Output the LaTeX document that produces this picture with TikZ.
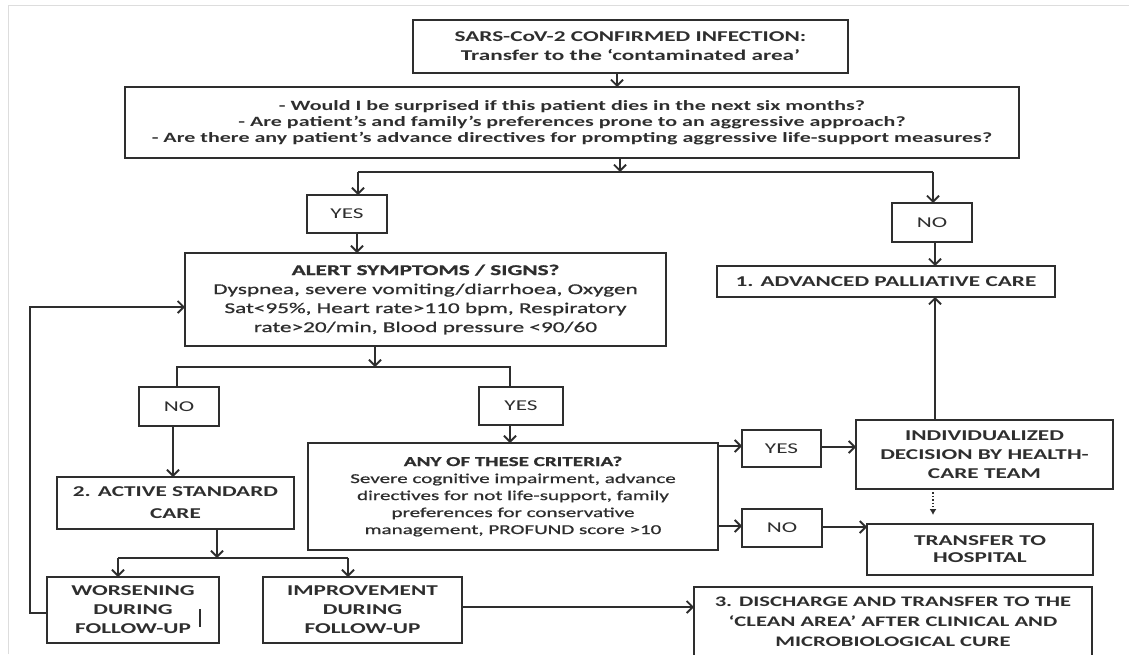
\documentclass[tikz,border=0pt]{standalone}
\usepackage{fontspec}
\setmainfont{Carlito}[FakeStretch=1.55]
\newfontfamily\semib{Carlito}[FakeStretch=1.55,FakeBold=0.8]
\usetikzlibrary{arrows.meta,calc}
\definecolor{ink}{HTML}{2E2E2E}
\definecolor{frame}{HTML}{DDDDDD}
\begin{document}
\begin{tikzpicture}[x=1pt,y=-1pt,
  box/.style={draw=ink,line width=2pt,align=center,inner sep=1pt,outer sep=0pt,text=ink,
    font=\fontsize{15}{19}\selectfont\bfseries},
  plain/.style={box,font=\fontsize{15}{19}\selectfont},
  body/.style={box,font=\fontsize{15}{19}\selectfont\semib},
  conn/.style={draw=ink,line width=2pt},
  arr/.style={conn,-{Straight Barb[length=6pt,width=12pt,line width=1.8pt]}},
  dotarr/.style={draw=ink,line width=1.4pt,dotted,-{Latex[length=6pt,width=7pt]}},
]
\useasboundingbox (0,0) rectangle (1129,654);
\clip (0,0) rectangle (1129,654);
\fill[white] (0,0) rectangle (1129,654);
\draw[frame,line width=1pt] (8,654) -- (8,5) -- (1129,5);

% boxes
\node[box,minimum width=435,minimum height=53] (top) at (630.5,46.5)
  {SARS-CoV-2 CONFIRMED INFECTION:\\Transfer to the `contaminated area'};
\node[box,minimum width=894,minimum height=71,font=\fontsize{14.2}{16}\selectfont\bfseries] (q) at (572,122.5)
  {- Would I be surprised if this patient dies in the next six months?\\
   - Are patient's and family's preferences prone to an aggressive approach?\\
   - Are there any patient's advance directives for prompting aggressive life-support measures?};
\node[plain,minimum width=80,minimum height=38] (yesa) at (347,214) {YES};
\node[plain,minimum width=80,minimum height=39] (noa) at (932,222.5) {NO};
\node[box,minimum width=338,minimum height=31] (pall) at (886,281.5) {1. ADVANCED PALLIATIVE CARE};
\node[body,minimum width=481,minimum height=93] (alert) at (425.5,299.5)
  {\bfseries ALERT SYMPTOMS / SIGNS?\\
   Dyspnea, severe vomiting/diarrhoea, Oxygen\\
   Sat<95\%, Heart rate>110 bpm, Respiratory\\
   rate>20/min, Blood pressure <90/60};
\node[plain,minimum width=80,minimum height=39] (nob) at (179,406.5) {NO};
\node[plain,minimum width=84,minimum height=38] (yesb) at (521,406) {YES};
\node[box,minimum width=237,minimum height=52,font=\fontsize{15}{22}\selectfont\bfseries] (active) at (175.5,503)
  {2. ACTIVE STANDARD\\CARE};
\node[body,minimum width=410,minimum height=107,font=\fontsize{13.6}{17}\selectfont\semib] (any) at (513,496.5)
  {\bfseries ANY OF THESE CRITERIA?\\
   Severe cognitive impairment, advance\\
   directives for not life-support, family\\
   preferences for conservative\\
   management, PROFUND score >10};
\node[plain,minimum width=79,minimum height=37] (yesc) at (781.5,448.5) {YES};
\node[plain,minimum width=80,minimum height=38] (noc) at (782,528) {NO};
\node[box,minimum width=257,minimum height=69] (indiv) at (984.5,454.5)
  {INDIVIDUALIZED\\DECISION BY HEALTH-\\CARE TEAM};
\node[box,minimum width=226,minimum height=51,font=\fontsize{15}{17}\selectfont\bfseries] (trans) at (980,549.5)
  {TRANSFER TO\\HOSPITAL};
\node[box,minimum width=172,minimum height=66] (worse) at (133,610)
  {WORSENING\\DURING\\FOLLOW-UP};
\node[box,minimum width=199,minimum height=66] (impr) at (362.5,610)
  {IMPROVEMENT\\DURING\\FOLLOW-UP};
\node[box,minimum width=398,minimum height=70,font=\fontsize{14.6}{20}\selectfont\bfseries] (disch) at (893,622)
  {3. DISCHARGE AND TRANSFER TO THE\\`CLEAN AREA' AFTER CLINICAL AND\\MICROBIOLOGICAL CURE};

% junction coordinates
\coordinate (j1) at (620,172);
\coordinate (j1l) at (358,172);
\coordinate (j1r) at (933,172);
\coordinate (j2) at (375,367);
\coordinate (j2l) at (177,367);
\coordinate (j2r) at (510,367);
\coordinate (j3) at (217,558);
\coordinate (j3l) at (118,558);
\coordinate (j3r) at (348,558);
\coordinate (loopb) at (30,613);
\coordinate (loopt) at (30,307);
\coordinate (dotend) at (933,515);
\coordinate (barT) at (200,609);
\coordinate (barB) at (200,627);

% connectors
\draw[arr] (top.south -| 617,0) -- (q.north -| 617,0);
\draw[arr] (q.south -| j1) -- (j1);
\draw[conn] (j1l) -- (j1r);
\draw[arr] (j1l) -- (yesa.north -| j1l);
\draw[arr] (j1r) -- (noa.north -| j1r);
\draw[arr] (yesa.south -| 357,0) -- (alert.north -| 357,0);
\draw[arr] (noa.south -| 935,0) -- (pall.north -| 935,0);
\draw[arr] (alert.south -| j2) -- (j2);
\draw[conn] (nob.north -| j2l) -- (j2l) -- (j2r) -- (yesb.north -| j2r);
\draw[arr] (nob.south -| 173,0) -- (active.north -| 173,0);
\draw[arr] (yesb.south -| j2r) -- (any.north -| j2r);
\draw[arr] (active.south -| j3) -- (j3);
\draw[conn] (j3l) -- (j3r);
\draw[arr] (j3l) -- (worse.north -| j3l);
\draw[arr] (j3r) -- (impr.north -| j3r);
\draw[arr] (any.east |- 0,446) -- (yesc.west |- 0,446);
\draw[arr] (yesc.east |- 0,447) -- (indiv.west |- 0,447);
\draw[arr] (any.east |- 0,526) -- (noc.west |- 0,526);
\draw[arr] (noc.east |- 0,527) -- (trans.west |- 0,527);
\draw[arr] (indiv.north -| 935,0) -- (pall.south -| 935,0);
\draw[dotarr] (indiv.south -| dotend) -- (dotend);
\draw[arr] (impr.east |- 0,607) -- (disch.west |- 0,607);
\draw[arr] (worse.west |- loopb) -- (loopb) -- (loopt) -- (alert.west |- loopt);
\draw[ink,line width=1.2pt] (barT) -- (barB);
\end{tikzpicture}
\end{document}
